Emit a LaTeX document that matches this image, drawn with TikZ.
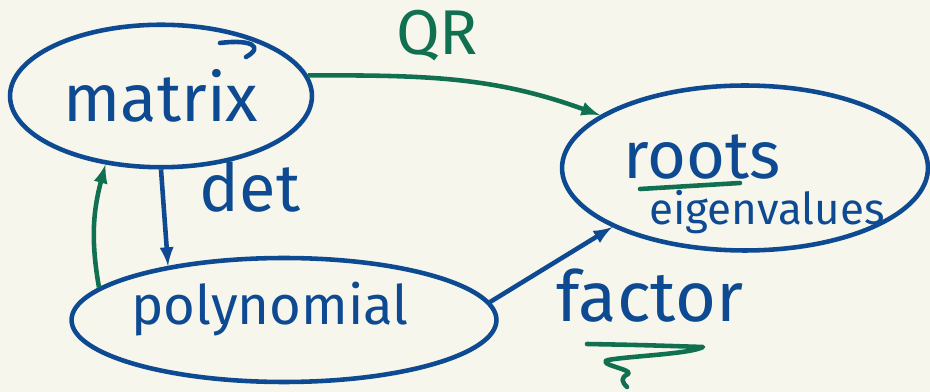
\documentclass[tikz,border=0pt]{standalone}
\usepackage{fontspec}
\setmainfont{Fira Sans}
\usetikzlibrary{shapes.geometric}
\definecolor{inkblue}{RGB}{14,74,145}
\definecolor{inkgreen}{RGB}{16,112,80}
\definecolor{paper}{RGB}{247,246,236}
\tikzset{
  >=latex,
}
\tikzstyle{blob}=[ellipse,draw=inkblue,line width=2.6pt]
\tikzstyle{edge}=[line width=2.6pt,->]
\tikzstyle{stroke}=[line width=2.6pt,line cap=round,line join=round]
\tikzstyle{word}=[anchor=base,inner sep=0pt]
\tikzstyle{every node}=[text=inkblue,font=\fontsize{38}{42}\selectfont]

\begin{document}
\begin{tikzpicture}[x=0.02cm,y=0.02cm]
    \fill[paper] (0,0) rectangle (930,392);
    \useasboundingbox (0,0) rectangle (930,392);
    % the three blobs
    \node[blob,minimum width=6.04cm,minimum height=2.85cm] (matrix) at (161,296) {matrix};
    \node[blob,minimum width=8.5cm,minimum height=2.48cm] (poly) at (284,72) {};
    \node[blob,minimum width=7.32cm,minimum height=3.3cm] (roots) at (745,224) {};
    \node[word,font=\fontsize{31}{34}\selectfont] (polytext) at (270,67) {polynomial};
    \node[word,font=\fontsize{38}{42}\selectfont] (rootstext) at (702,213) {roots};
    \node[word,font=\fontsize{25}{28}\selectfont] (eigtext) at (767,167) {eigenvalues};
    \draw[stroke,inkgreen] (640,203) -- (740,209);
    \draw[stroke,inkblue] (220,349) .. controls (252,353) and (264,345) .. (246,335);
    % arrows
    \draw[edge,inkgreen] (matrix.8) to[out=0,in=160] (roots.160);
    \node[word,text=inkgreen,font=\fontsize{36}{40}\selectfont] (qr) at (437,337) {QR};
    \draw[edge,inkblue] (matrix.south) -- (poly.155);
    \node[word,font=\fontsize{38}{42}\selectfont] (det) at (250,180) {det};
    \draw[edge,inkgreen] (poly.170) to[out=100,in=-105] (matrix.231);
    \draw[edge,inkblue] (poly.5) -- (roots.204);
    \node[word,font=\fontsize{40}{44}\selectfont] (factor) at (650,70) {factor};
    \draw[stroke,inkgreen] (587,48) .. controls (640,47) .. (703,45)
      .. controls (690,38) and (630,36) .. (608,32)
      .. controls (595,28) and (635,22) .. (628,18)
      .. controls (620,14) and (622,10) .. (627,5);
\end{tikzpicture}
\end{document}
